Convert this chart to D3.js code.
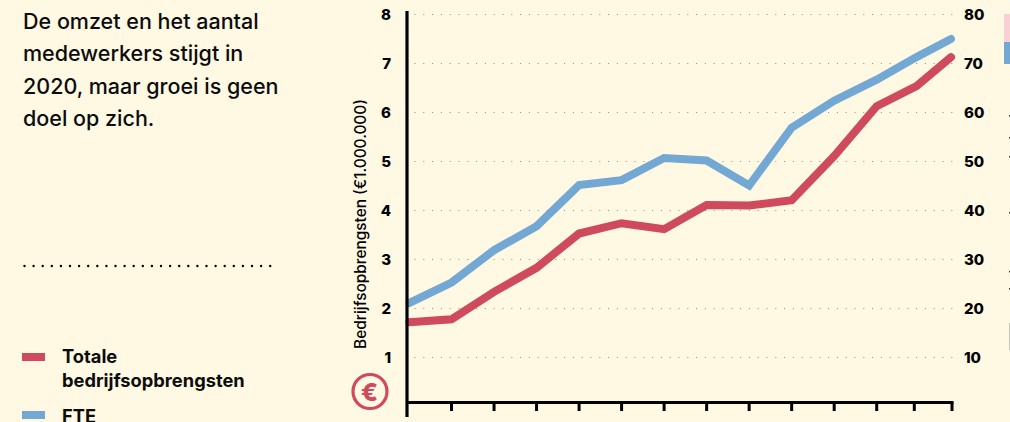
<!DOCTYPE html>
<html>
<head>
<meta charset="utf-8">
<script src="https://cdn.jsdelivr.net/npm/d3@7"></script>
<style>
  html, body { margin: 0; padding: 0; background: #fff9e3; overflow: hidden; }
  svg { display: block; font-family: Inter, sans-serif; }
</style>
</head>
<body>
<svg class="chart" width="1010" height="422"></svg>
<script>
const WIDTH = 1010;
const HEIGHT = 422;
const RED = '#cf4a5c';
const BLUE = '#72a8d3';

const years = [2007, 2008, 2009, 2010, 2011, 2012, 2013, 2014, 2015, 2016, 2017, 2018, 2019, 2020];
const revenue = [1.71, 1.77, 2.33, 2.82, 3.52, 3.73, 3.61, 4.1, 4.09, 4.2, 5.1, 6.12, 6.53, 7.12];
const fte = [21, 25.2, 31.8, 36.7, 45.1, 46.1, 50.6, 50.1, 45.0, 56.8, 62.3, 66.6, 71.2, 74.9];
const leftTicks = [1, 2, 3, 4, 5, 6, 7, 8];
const rightTicks = [10, 20, 30, 40, 50, 60, 70, 80];
const introLines = ['De omzet en het aantal', 'medewerkers stijgt in', '2020, maar groei is geen', 'doel op zich.'];

const svg = d3.select('.chart');

// the last two years sit closer together in the original
const x = d3.scaleLinear().domain([2007, 2018, 2019, 2020]).range([409, 876.7, 916.5, 951]);
const xTick = d3.scaleLinear().domain([2007, 2018, 2019, 2020]).range([409, 876.7, 914.3, 952]);
const yLeft = d3.scaleLinear().domain([0, 8]).range([406, 14]);
const yRight = d3.scaleLinear().domain([0, 80]).range([406, 14]);

// grid
svg.append('g').selectAll('line').data(leftTicks).enter().append('line')
  .attr('x1', 414.5)
  .attr('x2', 953)
  .attr('y1', (d) => Math.round(yLeft(d)) + 0.5)
  .attr('y2', (d) => Math.round(yLeft(d)) + 0.5)
  .attr('stroke', '#8d8a7c')
  .attr('stroke-width', 1)
  .attr('stroke-dasharray', '1 7.8');

// lines
const revenueLine = d3.line().x((d, i) => x(years[i])).y((d) => yLeft(d));
const fteLine = d3.line().x((d, i) => x(years[i])).y((d) => yRight(d));

svg.append('path')
  .attr('d', fteLine(fte))
  .attr('fill', 'none')
  .attr('stroke', BLUE)
  .attr('stroke-width', 8)
  .attr('stroke-linecap', 'round');

svg.append('path')
  .attr('d', revenueLine(revenue))
  .attr('fill', 'none')
  .attr('stroke', RED)
  .attr('stroke-width', 8)
  .attr('stroke-linecap', 'round');

// axes on top, left one hides the round caps
svg.append('rect').attr('x', 395).attr('y', 0).attr('width', 10.5).attr('height', 422).attr('fill', '#fff9e3');
svg.append('line').attr('x1', 407).attr('x2', 407).attr('y1', 11).attr('y2', 417)
  .attr('stroke', '#000').attr('stroke-width', 3.2);
svg.append('line').attr('x1', 407).attr('x2', 953.5).attr('y1', 402.5).attr('y2', 402.5)
  .attr('stroke', '#000').attr('stroke-width', 3);
svg.append('g').selectAll('line').data(years.slice(1)).enter().append('line')
  .attr('x1', (d) => xTick(d))
  .attr('x2', (d) => xTick(d))
  .attr('y1', 402)
  .attr('y2', 411)
  .attr('stroke', '#000')
  .attr('stroke-width', 3);

// tick labels
svg.append('g').selectAll('text').data(leftTicks).enter().append('text')
  .attr('x', 391)
  .attr('y', (d) => yLeft(d) + 6)
  .attr('text-anchor', 'end')
  .attr('font-size', 15)
  .attr('font-weight', 800)
  .attr('fill', '#000')
  .text((d) => d);

svg.append('g').selectAll('text').data(rightTicks).enter().append('text')
  .attr('x', 964)
  .attr('y', (d) => yRight(d) + 6)
  .attr('font-size', 15)
  .attr('font-weight', 800)
  .attr('fill', '#000')
  .text((d) => d);

// axis title
svg.append('text')
  .attr('transform', 'translate(366,224) rotate(-90)')
  .attr('text-anchor', 'middle')
  .attr('font-size', 15.4)
  .attr('font-weight', 500)
  .attr('fill', '#000')
  .text('Bedrijfsopbrengsten (€1.000.000)');

// euro badge
svg.append('circle')
  .attr('cx', 370)
  .attr('cy', 391.5)
  .attr('r', 17)
  .attr('fill', 'none')
  .attr('stroke', RED)
  .attr('stroke-width', 3.2);
svg.append('text')
  .attr('x', 369.5)
  .attr('y', 400.5)
  .attr('text-anchor', 'middle')
  .attr('font-size', 25)
  .attr('font-weight', 800)
  .attr('fill', RED)
  .text('€');

// intro text
svg.append('g').selectAll('text').data(introLines).enter().append('text')
  .attr('x', 23)
  .attr('y', (d, i) => 28.5 + i * 32.5)
  .attr('font-size', 21.5)
  .attr('font-weight', 500)
  .attr('fill', '#0c0c0c')
  .text((d) => d);

// dotted separator
svg.append('line')
  .attr('x1', 24.5)
  .attr('x2', 271)
  .attr('y1', 266)
  .attr('y2', 266)
  .attr('stroke', '#000')
  .attr('stroke-width', 2.4)
  .attr('stroke-linecap', 'round')
  .attr('stroke-dasharray', '0 9.1');

// legend
svg.append('rect').attr('x', 22).attr('y', 353).attr('width', 23).attr('height', 8).attr('fill', RED);
svg.append('rect').attr('x', 22).attr('y', 411).attr('width', 23).attr('height', 8).attr('fill', BLUE);
[['Totale', 362.5], ['bedrijfsopbrengsten', 386.5], ['FTE', 423]].forEach(([label, baseline]) => {
  svg.append('text')
    .attr('x', 62)
    .attr('y', baseline)
    .attr('font-size', 18.3)
    .attr('font-weight', 700)
    .attr('fill', '#0c0c0c')
    .text(label);
});

// bit of the next panel, cut off by the crop
svg.append('rect').attr('x', 1004).attr('y', 14).attr('width', 6).attr('height', 28).attr('fill', '#f9d0d3');
svg.append('rect').attr('x', 1004).attr('y', 42).attr('width', 6).attr('height', 22).attr('fill', BLUE);
svg.append('g').selectAll('rect').data([115, 137, 156, 212, 271, 288]).enter().append('rect')
  .attr('x', 1009)
  .attr('y', (d) => d)
  .attr('width', 1)
  .attr('height', 1.5)
  .attr('fill', '#333');
svg.append('rect').attr('x', 1009).attr('y', 323).attr('width', 1).attr('height', 27).attr('fill', '#c9c7bb');
</script>
</body>
</html>
